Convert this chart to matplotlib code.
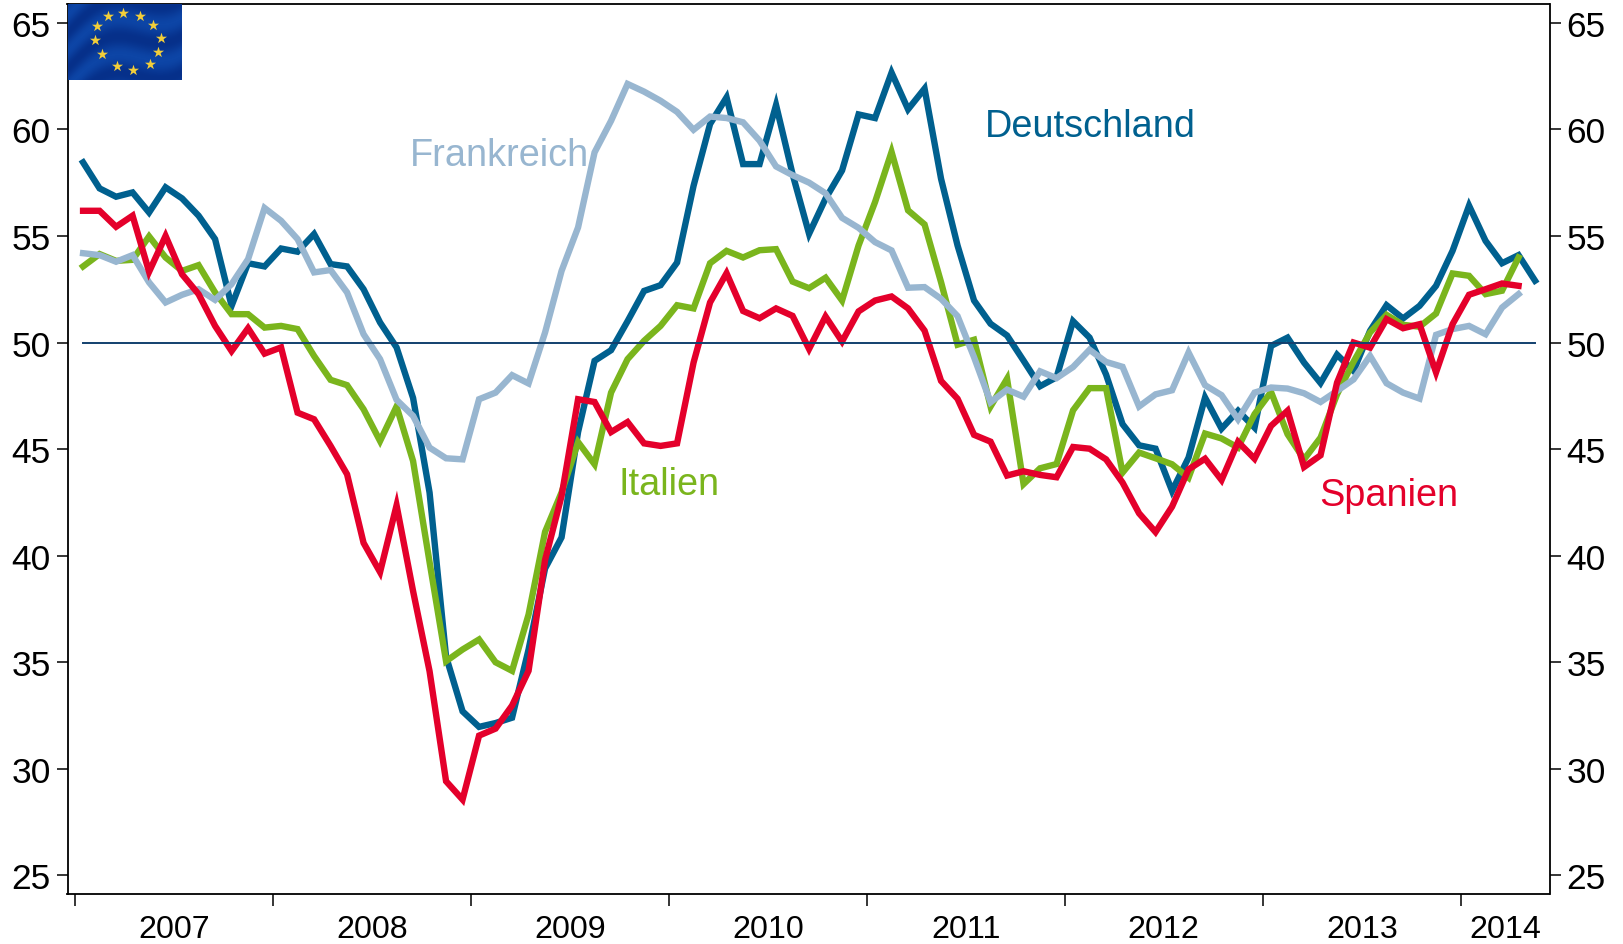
import numpy as np
import matplotlib
matplotlib.use("Agg")
import matplotlib.pyplot as plt

plt.rcParams["font.family"] = ["Liberation Sans", "DejaVu Sans"]

deutschland = [58.45, 57.23, 56.84, 57.04, 56.1, 57.28, 56.76, 55.95, 54.85, 51.72, 53.72, 53.57,
               54.41, 54.26, 55.09, 53.68, 53.57, 52.5, 50.94, 49.77, 47.4, 42.96, 35.27, 32.7,
               31.97, 32.15, 32.4, 35.6, 39.4, 40.86, 45.8, 49.14, 49.64, 51.0, 52.42, 52.69,
               53.75, 57.35, 60.25, 61.5, 58.37, 58.37, 61.14, 57.9, 55.1, 56.75, 58.07, 60.7,
               60.53, 62.66, 60.94, 61.91, 57.68, 54.55, 51.97, 50.88, 50.33, 49.15, 47.95, 48.37,
               51.0, 50.23, 48.5, 46.17, 45.18, 45.02, 43.04, 44.6, 47.42, 45.96, 46.8, 46.01,
               49.84, 50.23, 49.06, 48.1, 49.43, 48.67, 50.55, 51.75, 51.13, 51.72, 52.66, 54.3,
               56.42, 54.77, 53.72, 54.1, 52.9]
frankreich = [54.19, 54.1, 53.79, 54.1, 52.82, 51.88, 52.24, 52.5, 52.0, 52.74, 53.91, 56.31,
              55.71, 54.85, 53.29, 53.4, 52.35, 50.39, 49.22, 47.31, 46.56, 45.07, 44.57, 44.52,
              47.34, 47.65, 48.47, 48.08, 50.47, 53.36, 55.4, 58.92, 60.4, 62.13, 61.77, 61.34,
              60.82, 59.98, 60.6, 60.53, 60.33, 59.47, 58.26, 57.85, 57.5, 57.0, 55.85, 55.38,
              54.71, 54.32, 52.57, 52.6, 52.05, 51.24, 49.31, 47.2, 47.79, 47.46, 48.65, 48.33,
              48.85, 49.66, 49.09, 48.86, 47.0, 47.57, 47.76, 49.53, 48.0, 47.53, 46.4, 47.65,
              47.89, 47.84, 47.62, 47.21, 47.73, 48.27, 49.37, 48.09, 47.65, 47.37, 50.36, 50.63,
              50.78, 50.39, 51.64, 52.27]
italien = [53.57, 54.15, 53.83, 53.88, 54.98, 53.99, 53.36, 53.63, 52.35, 51.33, 51.33, 50.7,
           50.78, 50.63, 49.37, 48.25, 48.0, 46.87, 45.38, 47.0, 44.44, 39.7, 35.05, 35.6,
           36.07, 35.0, 34.6, 37.24, 41.12, 42.97, 45.33, 44.29, 47.65, 49.22, 50.08, 50.78,
           51.75, 51.6, 53.72, 54.3, 53.99, 54.33, 54.38, 52.86, 52.55, 53.04, 51.97, 54.55,
           56.59, 58.94, 56.2, 55.54, 52.83, 49.9, 50.13, 47.0, 48.3, 43.36, 44.1, 44.3,
           46.82, 47.86, 47.86, 43.9, 44.84, 44.57, 44.29, 43.66, 45.73, 45.5, 45.07, 46.64,
           47.68, 45.7, 44.52, 45.54, 47.57, 49.1, 50.47, 51.3, 50.83, 50.74, 51.36, 53.24,
           53.13, 52.27, 52.43, 53.99]
spanien = [56.18, 56.18, 55.43, 55.95, 53.32, 55.0, 53.2, 52.27, 50.78, 49.6, 50.67, 49.48,
           49.77, 46.71, 46.4, 45.15, 43.82, 40.6, 39.23, 42.36, 38.34, 34.58, 29.42, 28.56,
           31.56, 31.89, 32.97, 34.6, 39.8, 42.8, 47.34, 47.21, 45.8, 46.27, 45.27, 45.15,
           45.27, 49.06, 51.88, 53.25, 51.48, 51.14, 51.6, 51.25, 49.7, 51.22, 50.05, 51.46,
           51.97, 52.16, 51.6, 50.56, 48.2, 47.36, 45.67, 45.35, 43.76, 43.96, 43.79, 43.68,
           45.1, 45.02, 44.52, 43.43, 41.99, 41.11, 42.3, 44.05, 44.55, 43.55, 45.34, 44.55,
           46.09, 46.8, 44.16, 44.71, 48.12, 50.0, 49.76, 51.1, 50.67, 50.86, 48.6, 50.86,
           52.24, 52.5, 52.77, 52.66]

years = [2007, 2008, 2009, 2010, 2011, 2012, 2013, 2014]
year_label_pos = [2007.5, 2008.5, 2009.5, 2010.5, 2011.5, 2012.5, 2013.5, 2014.225]
y_ticks = [25, 30, 35, 40, 45, 50, 55, 60, 65]

# star centres of the flag, in pixels of the picture
star_x = [123.3, 140, 152.7, 160.7, 158.3, 150, 133.3, 116.7, 101.7, 95, 96.7, 107.7]
star_y = [14, 16.7, 26, 38.7, 53.3, 65.3, 70.7, 67.3, 55.3, 41, 27.3, 17.3]

W, H = 1623, 945
fig = plt.figure(figsize=(W / 100, H / 100), dpi=100)
ax = fig.add_axes([67.5 / W, 1 - 894.8 / H, (1549.5 - 67.5) / W, (894.8 - 5) / H])


def months(values):
    return 2007 + (np.arange(len(values)) + 0.5) / 12


lw = 4.6
ax.plot(months(deutschland), deutschland, color="#00608F", lw=lw, solid_joinstyle="miter", zorder=2)
ax.plot(months(italien), italien, color="#7AB51D", lw=lw, solid_joinstyle="miter", zorder=3)
ax.plot(months(frankreich), frankreich, color="#98B6D0", lw=lw, solid_joinstyle="miter", zorder=4)
ax.plot(months(spanien), spanien, color="#E4002B", lw=lw, solid_joinstyle="miter", zorder=5)
ax.plot([months(deutschland)[0], months(deutschland)[-1]], [50, 50], color="#12406E", lw=1.4, zorder=6)

ax.set_xlim(2006.963, 2014.448)
ax.set_ylim(24.14, 65.88)

ax.set_yticks(y_ticks)
ax.tick_params(axis="y", which="major", left=True, right=True, labelleft=True, labelright=True,
               length=8, width=1.1, labelsize=25.5, pad=4)
ax.set_xticks(years)
ax.set_xticklabels([])
ax.set_xticks(year_label_pos, minor=True)
ax.set_xticklabels([str(y) for y in years], minor=True)
ax.tick_params(axis="x", which="major", length=8.5, width=1.1)
ax.tick_params(axis="x", which="minor", length=0, labelsize=23.2, pad=14.5)

for spine in ax.spines.values():
    spine.set_linewidth(1.3)

ax.text(2011.596, 59.68, "Deutschland", color="#00608F", fontsize=27.3, va="baseline")
ax.text(2008.693, 58.32, "Frankreich", color="#98B6D0", fontsize=27.3, va="baseline")
ax.text(2009.745, 42.9, "Italien", color="#7AB51D", fontsize=27.3, va="baseline")
ax.text(2013.284, 42.4, "Spanien", color="#E4002B", fontsize=27.3, va="baseline")

# EU flag in the top left corner
flag = fig.add_axes([67.5 / W, 1 - 81 / H, 113.5 / W, 76 / H], zorder=10)
xx, yy = np.meshgrid(np.linspace(0, 1, 114), np.linspace(0, 1, 76))
waves = 0.5 + 0.5 * np.sin(13 * (xx * 0.6 + yy) + 2.5 * np.sin(5 * xx))
flag.imshow(waves, cmap=matplotlib.colors.LinearSegmentedColormap.from_list("f", ["#06308A", "#0D45A6"]),
            extent=[67.5, 181, 81, 5], aspect="auto")
flag.scatter(star_x, star_y, marker="*", s=70, color="#F2CE3A", linewidths=0)
flag.set_xlim(67.5, 181)
flag.set_ylim(81, 5)
flag.axis("off")

fig.savefig("out.png", dpi=100)
